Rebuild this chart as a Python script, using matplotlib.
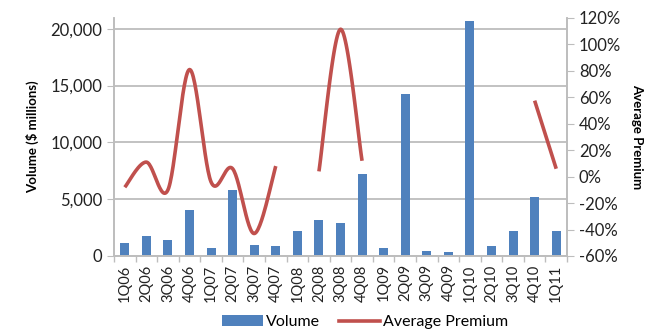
import numpy as np
import matplotlib
matplotlib.use("Agg")
import matplotlib.pyplot as plt
from matplotlib.lines import Line2D
from matplotlib.patches import Patch
from matplotlib.ticker import FuncFormatter, MultipleLocator

plt.rcParams['font.family'] = ['Lato', 'DejaVu Sans']

quarters = ["1Q06", "2Q06", "3Q06", "4Q06", "1Q07", "2Q07", "3Q07", "4Q07",
            "1Q08", "2Q08", "3Q08", "4Q08", "1Q09", "2Q09", "3Q09", "4Q09",
            "1Q10", "2Q10", "3Q10", "4Q10", "1Q11"]
volume = [1170, 1790, 1410, 4050, 680, 5780, 970, 880,
          2230, 3170, 2900, 7250, 680, 14230, 440, 330,
          20660, 910, 2200, 5170, 2200]
premium = [-8, 11, -10, 81, -4, 6, -43, 8,
           np.nan, 4, 111.5, 12, np.nan, np.nan, np.nan, np.nan,
           np.nan, np.nan, np.nan, 57.5, 6]

BLUE = "#4F81BD"
RED = "#C0504D"
GRID = "#BDBDBD"

fig = plt.figure(figsize=(6.63, 3.32), dpi=100)
ax = fig.add_axes([114/663, 1-256/332, (567-114)/663, (256-18)/332])
ax2 = ax.twinx()

x = np.arange(len(quarters))
ax.bar(x, volume, width=0.42, color=BLUE, zorder=2)
ax.set_xlim(-0.5, len(quarters) - 0.5)
ax.set_ylim(0, 20950)
ax.set_yticks([0, 5000, 10000, 15000, 20000])
ax.yaxis.set_major_formatter(FuncFormatter(lambda v, p: f"{int(v):,}"))
ax.grid(axis='y', color=GRID, linewidth=1.3, zorder=0)
ax.set_axisbelow(True)

ax.set_xticks(x)
ax.set_xticklabels(quarters, rotation=90, fontsize=10.5, color="#222222")
ax.set_xticks(np.arange(-0.5, len(quarters)), minor=True)
ax.tick_params(axis='x', which='major', length=0, pad=6)
ax.tick_params(axis='x', which='minor', length=4, color=GRID, width=1)
ax.tick_params(axis='y', labelsize=12, length=5, color=GRID, colors="#222222")
ax.tick_params(axis='y', color=GRID)

for s in ['top']:
    ax.spines[s].set_visible(False)
    ax2.spines[s].set_visible(False)
for s in ['left', 'bottom', 'right']:
    ax.spines[s].set_color(GRID)
    ax2.spines[s].set_color(GRID)
    ax.spines[s].set_linewidth(1.2)
    ax2.spines[s].set_linewidth(1.2)

ax.set_ylabel("Volume ($ millions)", fontsize=9.5, fontweight='bold', labelpad=8)

# smooth (Catmull-Rom style, as Excel smoothed lines) through each contiguous segment
prem = np.array(premium, dtype=float) / 100.0
segs = []
cur = []
for i, v in enumerate(prem):
    if np.isnan(v):
        if cur:
            segs.append(cur)
        cur = []
    else:
        cur.append(i)
if cur:
    segs.append(cur)

def smooth(px, py, n=30):
    P = np.column_stack([px, py])
    out = [P[0]]
    m = len(P)
    for i in range(m - 1):
        p0 = P[i - 1] if i > 0 else P[i]
        p1 = P[i]
        p2 = P[i + 1]
        p3 = P[i + 2] if i + 2 < m else P[i + 1]
        c1 = p1 + (p2 - p0) / 6.0
        c2 = p2 - (p3 - p1) / 6.0
        t = np.linspace(0, 1, n)[1:, None]
        B = ((1 - t) ** 3) * p1 + 3 * ((1 - t) ** 2) * t * c1 + 3 * (1 - t) * t ** 2 * c2 + t ** 3 * p2
        out.extend(B)
    out = np.array(out)
    return out[:, 0], out[:, 1]

for seg in segs:
    sx, sy = smooth(x[seg].astype(float), prem[seg])
    ax2.plot(sx, sy, color=RED, linewidth=2.6, solid_capstyle='butt', zorder=3)

ax2.set_ylim(-0.6, 1.2)
ax2.yaxis.set_major_locator(MultipleLocator(0.2))
ax2.yaxis.set_major_formatter(FuncFormatter(lambda v, p: f"{round(v*100):d}%"))
ax2.tick_params(axis='y', labelsize=12, length=5, color=GRID, colors="#222222")
ax2.set_ylabel("Average Premium", fontsize=9.5, fontweight='bold', rotation=-90, labelpad=16)

handles = [Patch(facecolor=BLUE, edgecolor='none', label="Volume"),
           Line2D([0], [0], color=RED, linewidth=2.6, label="Average Premium")]
fig.legend(handles=handles, loc='center', bbox_to_anchor=(0.55, 0.03), ncol=2,
           frameon=False, fontsize=11.5, handlelength=2.6, handletextpad=0.15,
           columnspacing=1.2)

fig.savefig("out.png", dpi=100)
